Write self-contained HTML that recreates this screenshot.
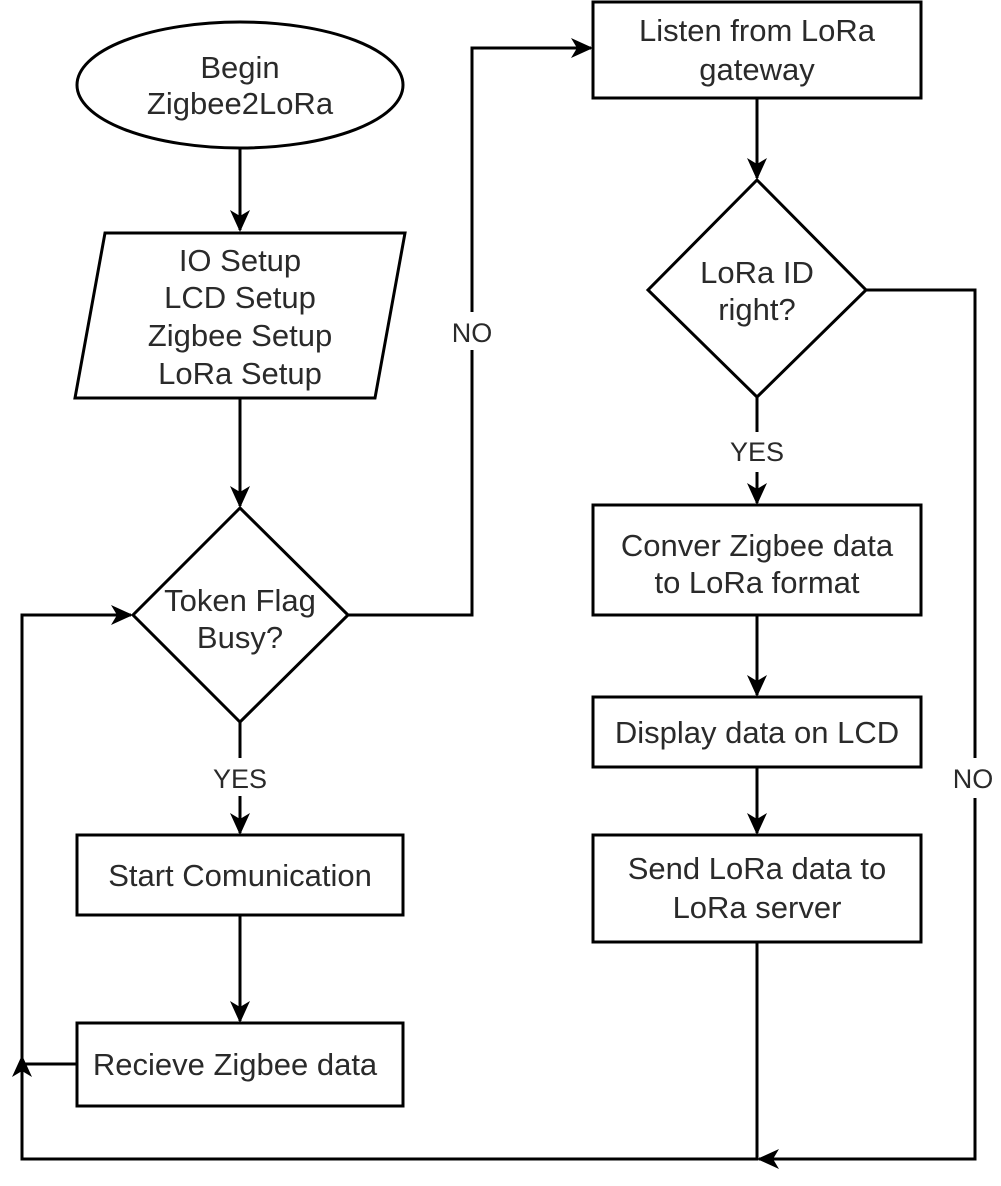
<!DOCTYPE html>
<html><head><meta charset="utf-8"><style>
html,body{margin:0;padding:0;background:#fff;}
svg text{font-family:"Liberation Sans",Arial,sans-serif;font-size:31px;fill:#2a2a2a;text-anchor:middle;}
</style></head><body>
<svg width="1001" height="1181" viewBox="0 0 1001 1181" xmlns="http://www.w3.org/2000/svg">
<defs>
<marker id="b" markerWidth="24" markerHeight="24" refX="20" refY="10" orient="auto" markerUnits="userSpaceOnUse"><path d="M0,0 L22,10 L0,20 L6,10 z" fill="#000"/></marker></defs>
<g fill="none" stroke="#000" stroke-width="3">
<ellipse cx="240" cy="85" rx="163" ry="63" fill="#fff"/>
<polygon points="105,233 405,233 375,398 75,398" fill="#fff"/>
<polygon points="240,508 348,615 240,722 133,615" fill="#fff"/>
<rect x="77" y="835" width="326" height="80" fill="#fff"/>
<rect x="77" y="1023" width="326" height="83" fill="#fff"/>
<rect x="593" y="2" width="328" height="96" fill="#fff"/>
<polygon points="757,180 866,290 757,397 648,290" fill="#fff"/>
<rect x="593" y="505" width="328" height="110" fill="#fff"/>
<rect x="593" y="697" width="328" height="70" fill="#fff"/>
<rect x="593" y="835" width="328" height="107" fill="#fff"/>
<path d="M240,148 V230" marker-end="url(#b)"/>
<path d="M240,398 V506" marker-end="url(#b)"/>
<path d="M240,722 V833" marker-end="url(#b)"/>
<path d="M240,915 V1021" marker-end="url(#b)"/>
<path d="M348,615 H472 V48 H591" marker-end="url(#b)"/>
<path d="M757,98 V178" marker-end="url(#b)"/>
<path d="M757,397 V503" marker-end="url(#b)"/>
<path d="M757,615 V695" marker-end="url(#b)"/>
<path d="M757,767 V833" marker-end="url(#b)"/>
<path d="M866,290 H975 V1159 H759" marker-end="url(#b)"/>
<path d="M757,942 V1159 H22 V615 H131" marker-end="url(#b)"/>
<path d="M77,1064 H22"/>
<path d="M22,1075 V1057" marker-end="url(#b)"/>
</g>
<rect x="450" y="312" width="44" height="38" fill="#fff"/>
<rect x="948" y="758" width="52" height="40" fill="#fff"/>
<rect x="205" y="758" width="72" height="38" fill="#fff"/>
<rect x="720" y="432" width="74" height="40" fill="#fff"/>
<text x="240" y="78">Begin</text><text x="240" y="114">Zigbee2LoRa</text>
<text x="240" y="271">IO Setup</text><text x="240" y="308">LCD Setup</text><text x="240" y="346">Zigbee Setup</text><text x="240" y="384">LoRa Setup</text>
<text x="240" y="611">Token Flag</text><text x="240" y="648">Busy?</text>
<text x="240" y="886">Start Comunication</text>
<text x="235" y="1075">Recieve Zigbee data</text>
<text x="757" y="41">Listen from LoRa</text><text x="757" y="80">gateway</text>
<text x="757" y="283">LoRa ID</text><text x="757" y="320">right?</text>
<text x="757" y="556">Conver Zigbee data</text><text x="757" y="593">to LoRa format</text>
<text x="757" y="743">Display data on LCD</text>
<text x="757" y="879">Send LoRa data to</text><text x="757" y="918">LoRa server</text>
<text x="472" y="342" style="font-size:27px">NO</text>
<text x="973" y="788" style="font-size:27px">NO</text>
<text x="240" y="788" style="font-size:27px">YES</text>
<text x="757" y="461" style="font-size:27px">YES</text>
</svg>
</body></html>
